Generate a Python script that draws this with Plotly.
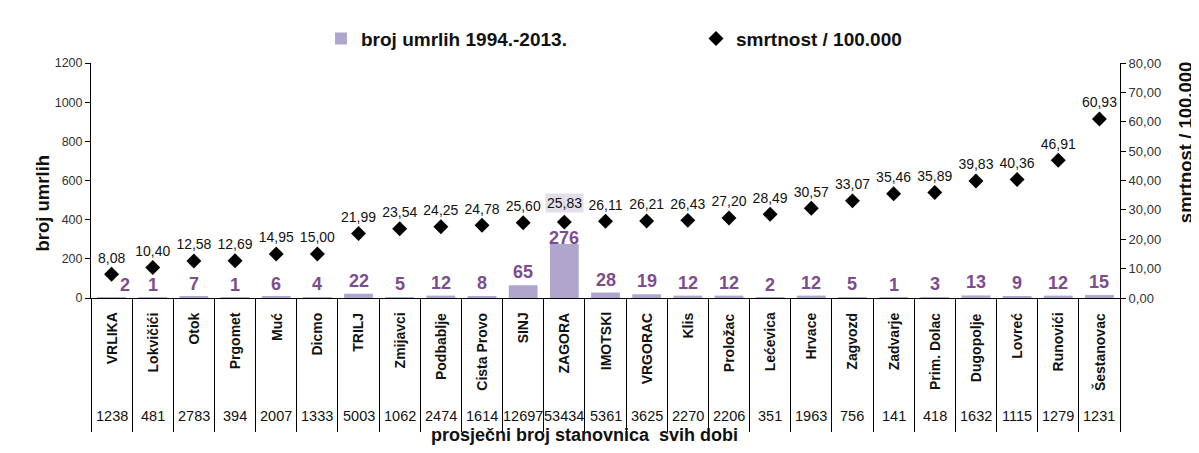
import plotly.graph_objects as go

categories = ["VRLIKA", "Lokvičići", "Otok", "Prgomet", "Muć", "Dicmo", "TRILJ", "Zmijavci",
              "Podbablje", "Cista Provo", "SINJ", "ZAGORA", "IMOTSKI", "VRGORAC", "Klis",
              "Proložac", "Lećevica", "Hrvace", "Zagvozd", "Zadvarje", "Prim. Dolac",
              "Dugopolje", "Lovreć", "Runovići", "Šestanovac"]
deaths = [2, 1, 7, 1, 6, 4, 22, 5, 12, 8, 65, 276, 28, 19, 12, 12, 2, 12, 5, 1, 3, 13, 9, 12, 15]
rate = [8.08, 10.40, 12.58, 12.69, 14.95, 15.00, 21.99, 23.54, 24.25, 24.78, 25.60, 25.83,
        26.11, 26.21, 26.43, 27.20, 28.49, 30.57, 33.07, 35.46, 35.89, 39.83, 40.36, 46.91, 60.93]
population = [1238, 481, 2783, 394, 2007, 1333, 5003, 1062, 2474, 1614, 12697, 53434, 5361,
              3625, 2270, 2206, 351, 1963, 756, 141, 418, 1632, 1115, 1279, 1231]
highlighted = "ZAGORA"

FONT = "Arial, 'Liberation Sans', sans-serif"
BAR_COLOR = "#b0a5cc"
LABEL_PURPLE = "#7d4c8f"
# per-label nudges (px) for bar value labels that would collide with a marker
LABEL_NUDGE = {"VRLIKA": (13, 13), "ZAGORA": (0, 6)}


def fmt(v):
    return f"{v:.2f}".replace(".", ",")


rate_text = ["" if c == highlighted else fmt(v) for c, v in zip(categories, rate)]

fig = go.Figure()
fig.add_trace(go.Bar(
    x=categories, y=deaths, name="broj umrlih 1994.-2013.",
    marker=dict(color=BAR_COLOR, line=dict(width=0)), width=0.7,
    yaxis="y",
))
fig.add_trace(go.Scatter(
    x=categories, y=rate, name="smrtnost / 100.000", yaxis="y2",
    mode="markers+text",
    marker=dict(symbol="diamond", size=11.5, color="#000"),
    text=rate_text, textposition="top center",
    textfont=dict(family=FONT, size=14, color="#111"),
    cliponaxis=False,
))

annotations = []
# bar value labels
for c, d in zip(categories, deaths):
    xs, ys = LABEL_NUDGE.get(c, (0, 13))
    annotations.append(dict(x=c, xref="x", y=d, yref="y", text=str(d), showarrow=False,
                            yanchor="middle", yshift=ys, xshift=xs,
                            font=dict(family=FONT, size=18, color=LABEL_PURPLE, weight="bold")))
# category labels (rotated) under the axis
for c in categories:
    annotations.append(dict(x=c, xref="x", y=-0.054, yref="paper", text=c, showarrow=False,
                            textangle=-90, yanchor="top", xanchor="center",
                            font=dict(family=FONT, size=14, color="#111", weight="bold")))
# population row
for c, p in zip(categories, population):
    annotations.append(dict(x=c, xref="x", y=-0.5, yref="paper", text=str(p),
                            showarrow=False, yanchor="middle",
                            font=dict(family=FONT, size=14.5, color="#111")))
# highlighted rate label (with background box)
zi = categories.index(highlighted)
annotations.append(dict(x=categories[zi], xref="x", y=rate[zi], yref="y2",
                        text=fmt(rate[zi]), showarrow=False,
                        yshift=19, bgcolor="#e2deea", borderpad=1,
                        font=dict(family=FONT, size=14, color="#111")))
annotations += [
    dict(x=-0.0593, y=0.404, xref="paper", yref="paper", text="<b>broj umrlih</b>",
         textangle=-90, showarrow=False, font=dict(family=FONT, size=18.5, color="#111")),
    dict(x=1.0758, y=0.31, xref="paper", yref="paper", text="<b>smrtnost / 100.000</b>",
         textangle=-90, showarrow=False, font=dict(family=FONT, size=18.5, color="#111")),
    dict(x=0.48, y=-0.633, xref="paper", yref="paper",
         text="<b>prosječni broj stanovnica  svih dobi</b>",
         showarrow=False, font=dict(family=FONT, size=18, color="#111")),
]

fig.update_layout(
    width=1199, height=453,
    margin=dict(l=83, r=87, t=50, b=163),
    paper_bgcolor="white", plot_bgcolor="white",
    showlegend=True,
    legend=dict(orientation="h", x=(313 - 83) / 1029, y=1.104, xanchor="left",
                yanchor="middle", entrywidth=330, entrywidthmode="pixels",
                font=dict(family=FONT, size=19, color="#111", weight="bold"),
                bgcolor="rgba(0,0,0,0)"),
    font=dict(family=FONT, color="#111"),
    separators=",.",
    xaxis=dict(type="category", range=[-0.5, len(categories) - 0.5],
               showline=True, linecolor="#000", linewidth=1,
               tickson="boundaries", ticks="outside", ticklen=133, tickcolor="#000",
               tickwidth=1, showticklabels=False,
               showgrid=False, zeroline=False, automargin=False, fixedrange=True),
    yaxis=dict(range=[0, 1200], dtick=200, showline=True, linecolor="#000", linewidth=1,
               ticks="outside", ticklen=5, tickcolor="#000", showgrid=False,
               zeroline=False, tickfont=dict(family=FONT, size=12.5, color="#333"),
               automargin=False),
    yaxis2=dict(range=[0, 80], dtick=10, overlaying="y", side="right", tickformat=".2f",
                showline=True, linecolor="#000", linewidth=1, ticks="outside", ticklen=5,
                tickcolor="#000", showgrid=False, zeroline=False,
                tickfont=dict(family=FONT, size=13, color="#333"), automargin=False),
    annotations=annotations,
)

fig.write_html("out.html")
